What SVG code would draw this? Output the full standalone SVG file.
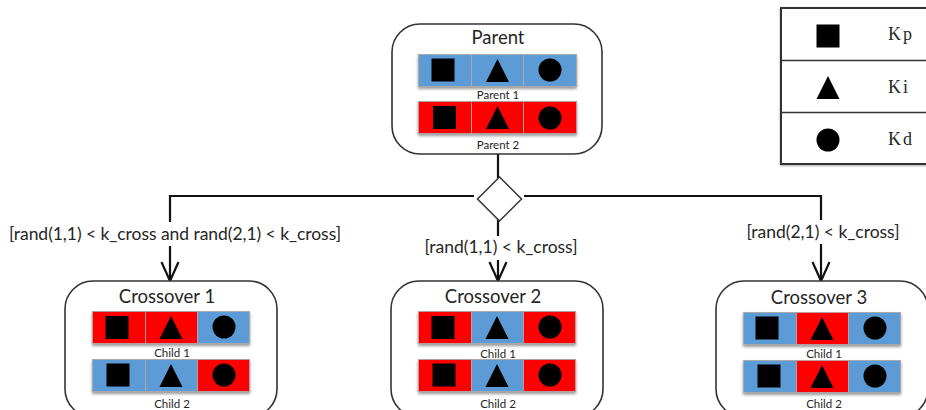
<svg xmlns="http://www.w3.org/2000/svg" width="926" height="410" viewBox="0 0 926 410">
<style>
text{font-family:Lato,"Liberation Sans",sans-serif;fill:#262626;text-anchor:middle}
.box{fill:#fff;stroke:#333;stroke-width:1.6}
.title{font-size:18.5px}
.small{font-size:11.5px}
.cond{font-size:17.5px}
.b{fill:#5b9bd5;stroke:#a9a9a9;stroke-width:1}
.r{fill:#f00;stroke:#b0a0a0;stroke-width:1}
.row{filter:url(#sh)}
.wire{fill:none;stroke:#111;stroke-width:2.2}
.leg{font-family:"Liberation Serif",serif;font-size:18px;letter-spacing:2px;text-anchor:start}
</style>
<defs>
<filter id="sh" x="-10%" y="-20%" width="120%" height="150%"><feDropShadow dx="0" dy="2" stdDeviation="1.6" flood-color="#000" flood-opacity=".4"/></filter>
<filter id="sh2" x="-30%" y="-30%" width="160%" height="160%"><feDropShadow dx="0" dy="1" stdDeviation="1" flood-color="#000" flood-opacity=".35"/></filter>
<g id="sq"><rect x="-11.500" y="-11.500" width="23" height="23" fill="#000"/></g>
<g id="tr"><path d="M0-12L11.500 11H-11.500Z" fill="#000"/></g>
<g id="ci"><circle r="11.500" fill="#000"/></g>
<marker id="arr" markerUnits="userSpaceOnUse" markerWidth="22" markerHeight="20" refX="20" refY="10" orient="auto" viewBox="0 0 22 20"><path d="M1 1.500L20 10L1 18.500" fill="none" stroke="#111" stroke-width="2.200"/></marker>
</defs>

<g id="connectors">
<path class="wire" d="M498 154V178"/>
<path class="wire" d="M474 196H170V281" marker-end="url(#arr)"/>
<path class="wire" d="M498 218V281" marker-end="url(#arr)"/>
<path class="wire" d="M524 196H821V281" marker-end="url(#arr)"/>
</g>

<g id="decision"><path d="M499.500 177L521.500 199L499.500 221L477.500 199Z" fill="#fff" stroke="#333" stroke-width="1.500"/></g>

<g id="cond1"><rect x="8" y="222" width="334" height="24" fill="#fff"/><text class="cond" x="175" y="240" textLength="332" lengthAdjust="spacing">[rand(1,1) &lt; k_cross and rand(2,1) &lt; k_cross]</text></g>
<g id="cond2"><rect x="424" y="236" width="154" height="24" fill="#fff"/><text class="cond" x="501" y="253" textLength="153" lengthAdjust="spacing">[rand(1,1) &lt; k_cross]</text></g>
<g id="cond3"><rect x="746" y="220" width="155" height="24" fill="#fff"/><text class="cond" x="823" y="238" textLength="153" lengthAdjust="spacing">[rand(2,1) &lt; k_cross]</text></g>

<g id="parent">
<rect class="box" x="392" y="24" width="210" height="130" rx="28"/>
<text class="title" x="498" y="44">Parent</text>
<g class="row"><rect class="b" x="418.500" y="54.500" width="53" height="32"/><rect class="b" x="471.500" y="54.500" width="52" height="32"/><rect class="b" x="523.500" y="54.500" width="53" height="32"/></g>
<use href="#sq" x="443" y="70"/><use href="#tr" x="497.500" y="71"/><use href="#ci" x="550" y="70"/>
<text class="small" x="498" y="99">Parent 1</text>
<g class="row"><rect class="r" x="418.500" y="101.500" width="53" height="32"/><rect class="r" x="471.500" y="101.500" width="52" height="32"/><rect class="r" x="523.500" y="101.500" width="53" height="32"/></g>
<use href="#sq" x="444.500" y="117.500"/><use href="#tr" x="497.500" y="118"/><use href="#ci" x="550" y="118"/>
<text class="small" x="498" y="149">Parent 2</text>
</g>

<g id="crossover1">
<rect class="box" x="65" y="281" width="212" height="136" rx="28"/>
<text class="title" x="167" y="303">Crossover 1</text>
<g class="row"><rect class="r" x="92.500" y="311.500" width="53" height="32"/><rect class="r" x="145.500" y="311.500" width="52" height="32"/><rect class="b" x="197.500" y="311.500" width="52" height="32"/></g>
<use href="#sq" x="117" y="327.500"/><use href="#tr" x="171" y="328"/><use href="#ci" x="224" y="327"/>
<text class="small" x="172" y="357">Child 1</text>
<g class="row"><rect class="b" x="92.500" y="359.500" width="53" height="32"/><rect class="b" x="145.500" y="359.500" width="52" height="32"/><rect class="r" x="197.500" y="359.500" width="52" height="32"/></g>
<use href="#sq" x="118" y="375"/><use href="#tr" x="171" y="376"/><use href="#ci" x="224" y="375"/>
<text class="small" x="172" y="408">Child 2</text>
</g>

<g id="crossover2">
<rect class="box" x="391" y="281" width="212" height="136" rx="28"/>
<text class="title" x="493" y="303">Crossover 2</text>
<g class="row"><rect class="r" x="418.500" y="311.500" width="53" height="32"/><rect class="b" x="471.500" y="311.500" width="52" height="32"/><rect class="r" x="523.500" y="311.500" width="52" height="32"/></g>
<use href="#sq" x="443" y="327.500"/><use href="#tr" x="497" y="328"/><use href="#ci" x="550" y="327"/>
<text class="small" x="498" y="358">Child 1</text>
<g class="row"><rect class="r" x="418.500" y="359.500" width="53" height="32"/><rect class="b" x="471.500" y="359.500" width="52" height="32"/><rect class="r" x="523.500" y="359.500" width="52" height="32"/></g>
<use href="#sq" x="444" y="375"/><use href="#tr" x="497" y="376"/><use href="#ci" x="550" y="375"/>
<text class="small" x="498" y="408">Child 2</text>
</g>

<g id="crossover3">
<rect class="box" x="716" y="281" width="212" height="136" rx="28"/>
<text class="title" x="819" y="304">Crossover 3</text>
<g class="row"><rect class="b" x="743.500" y="312.500" width="53" height="32"/><rect class="r" x="796.500" y="312.500" width="52" height="32"/><rect class="b" x="848.500" y="312.500" width="52" height="32"/></g>
<use href="#sq" x="767" y="328"/><use href="#tr" x="822" y="329"/><use href="#ci" x="875" y="328"/>
<text class="small" x="824" y="358">Child 1</text>
<g class="row"><rect class="b" x="743.500" y="360.500" width="53" height="32"/><rect class="r" x="796.500" y="360.500" width="52" height="32"/><rect class="b" x="848.500" y="360.500" width="52" height="32"/></g>
<use href="#sq" x="769" y="376"/><use href="#tr" x="822" y="377"/><use href="#ci" x="875" y="376"/>
<text class="small" x="824" y="408">Child 2</text>
</g>

<g id="legend">
<rect x="781" y="8" width="150" height="156" fill="#fff" stroke="#333" stroke-width="2" filter="url(#sh2)"/>
<path d="M781 60.500H926M781 112.500H926" stroke="#333" stroke-width="1.600"/>
<use href="#sq" x="828" y="36"/><use href="#tr" x="828" y="88"/><use href="#ci" x="828" y="140"/>
<text class="leg" x="888" y="40">Kp</text>
<text class="leg" x="888" y="93">Ki</text>
<text class="leg" x="888" y="145">Kd</text>
</g>
</svg>
